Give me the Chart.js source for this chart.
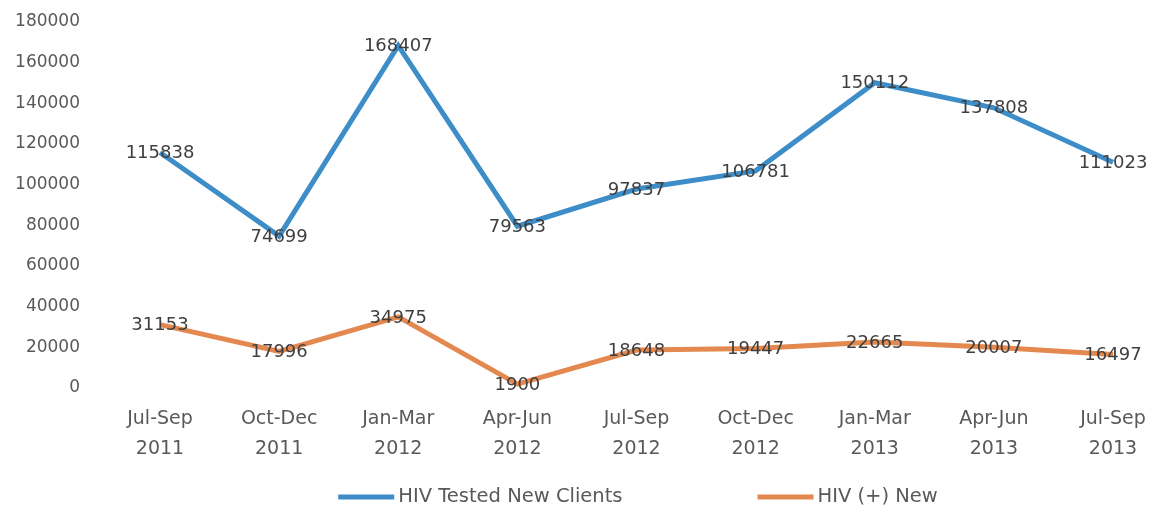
<!DOCTYPE html>
<html><head><meta charset="utf-8">
<script src="https://cdn.jsdelivr.net/npm/chart.js@4/dist/chart.umd.min.js"></script>
<style>html,body{margin:0;padding:0;background:#fff}#wrap{width:1156px;height:511px;position:relative}</style>
</head><body><div id="wrap"><canvas id="c"></canvas></div>
<script>
const categories = [["Jul-Sep","2011"],["Oct-Dec","2011"],["Jan-Mar","2012"],["Apr-Jun","2012"],["Jul-Sep","2012"],["Oct-Dec","2012"],["Jan-Mar","2013"],["Apr-Jun","2013"],["Jul-Sep","2013"]];
const testedNew = [115838, 74699, 168407, 79563, 97837, 106781, 150112, 137808, 111023];
const positiveNew = [31153, 17996, 34975, 1900, 18648, 19447, 22665, 20007, 16497];
const seriesNames = ["HIV Tested New Clients", "HIV (+) New"];
const seriesColors = ['#3d8dc8', '#e3894f'];

const labelPlugin = {
  id: 'vals',
  afterDatasetsDraw(chart) {
    const ctx = chart.ctx;
    ctx.save();
    ctx.font = '18px "DejaVu Sans"';
    ctx.fillStyle = '#3f3f3f';
    ctx.textAlign = 'center';
    ctx.textBaseline = 'middle';
    chart.data.datasets.forEach((ds, i) => {
      chart.getDatasetMeta(i).data.forEach((pt, j) => {
        ctx.fillText(String(ds.data[j]), pt.x, pt.y + 1);
      });
    });
    ctx.restore();
  }
};

const legendPlugin = {
  id: 'customLegend',
  afterDraw(chart) {
    const ctx = chart.ctx;
    ctx.save();
    ctx.font = '19.5px "DejaVu Sans"';
    ctx.textBaseline = 'middle';
    ctx.textAlign = 'left';
    const sw = 56, gapText = 4, gapItem = 135, y = 497, center = 638;
    const items = chart.data.datasets.map(ds => ({text: ds.label, color: ds.borderColor, w: sw + gapText + ctx.measureText(ds.label).width}));
    const total = items.reduce((a, it) => a + it.w, 0) + gapItem * (items.length - 1);
    let x = center - total / 2;
    items.forEach(it => {
      ctx.fillStyle = it.color;
      ctx.fillRect(x, y - 2.5, sw, 5);
      ctx.fillStyle = '#595959';
      ctx.fillText(it.text, x + sw + gapText, y);
      x += it.w + gapItem;
    });
    ctx.restore();
  }
};

new Chart(document.getElementById('c'), {
  type: 'line',
  data: {
    labels: categories,
    datasets: [
      {label: seriesNames[0], data: testedNew, borderColor: seriesColors[0], backgroundColor: seriesColors[0], borderWidth: 5, pointRadius: 0, tension: 0},
      {label: seriesNames[1], data: positiveNew, borderColor: seriesColors[1], backgroundColor: seriesColors[1], borderWidth: 5, pointRadius: 0, tension: 0}
    ]
  },
  plugins: [labelPlugin, legendPlugin],
  options: {
    responsive: true, maintainAspectRatio: false, animation: false,
    layout: {padding: {left: 0, right: 43, top: 22, bottom: 40}},
    plugins: {
      tooltip: {enabled: false},
      legend: {display: false}
    },
    scales: {
      x: {
        offset: false,
        grid: {display: false, drawTicks: false},
        border: {display: false},
        ticks: {color: '#595959', padding: 16, maxRotation: 0, autoSkip: false, font: {family: '"DejaVu Sans"', size: 19, lineHeight: 1.58}},
        afterFit(s) { s.height = 83; s.paddingLeft = 0; s.paddingRight = 0; }
      },
      y: {
        min: 0, max: 180000,
        grid: {display: false, drawTicks: false},
        border: {display: false},
        ticks: {stepSize: 20000, color: '#595959', padding: 80, font: {family: '"DejaVu Sans"', size: 17}, callback: v => String(v)},
        afterFit(s) { s.width = 160; s.paddingTop = 0; s.paddingBottom = 0; }
      }
    }
  }
});
</script></body></html>
